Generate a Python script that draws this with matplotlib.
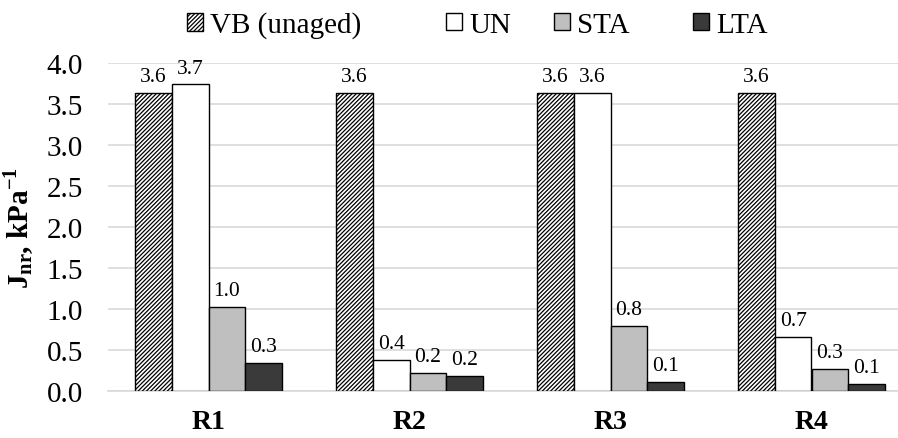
import numpy as np
import matplotlib.pyplot as plt

plt.rcParams['font.family'] = ['Liberation Serif']
plt.rcParams['mathtext.fontset'] = 'custom'
plt.rcParams['mathtext.rm'] = 'Liberation Serif'
plt.rcParams['mathtext.bf'] = 'Liberation Serif:bold'
plt.rcParams['hatch.linewidth'] = 0.9

# Non-recoverable creep compliance per binder / ageing state
groups = ['R1', 'R2', 'R3', 'R4']
series = ['VB (unaged)', 'UN', 'STA', 'LTA']
vb = [3.64, 3.64, 3.64, 3.64]
un = [3.74, 0.38, 3.64, 0.66]
sta = [1.03, 0.22, 0.79, 0.27]
lta = [0.34, 0.18, 0.11, 0.085]

fills = ['white', 'white', '#bfbfbf', '#3a3a3a']
hatches = ['////////', None, None, None]

fig = plt.figure(figsize=(8.98, 4.39), dpi=100)
ax = fig.add_axes([108/898, 47/439, 804/898, 328/439])

x = np.arange(len(groups))
w = 0.182
handles = []
for i, (vals, name) in enumerate(zip([vb, un, sta, lta], series)):
    pos = x + (i - 1.5) * w
    bars = ax.bar(pos, vals, w, color=fills[i], edgecolor='black',
                  linewidth=1.0, hatch=hatches[i], label=name, zorder=3)
    handles.append(bars)
    for b, v in zip(bars, vals):
        ax.annotate(f'{v:.1f}', (b.get_x() + b.get_width() / 2, v),
                    xytext=(0, 8.5), textcoords='offset points',
                    ha='center', va='baseline', fontsize=15.5)

ax.set_xlim(-0.5, 3.5)
ax.set_ylim(0, 4.0)
yt = np.arange(0, 4.01, 0.5)
ax.set_yticks(yt)
ax.set_yticklabels([f'{t:.1f}' for t in yt], fontsize=21)
ax.set_xticks(x)
ax.set_xticklabels(groups, fontsize=20, fontweight='bold')
ax.tick_params(axis='both', length=0)
ax.tick_params(axis='x', pad=13)
ax.tick_params(axis='y', pad=18)
ax.grid(axis='y', color='#d9d9d9', linewidth=1.2, zorder=0)
for s in ['top', 'right', 'left']:
    ax.spines[s].set_visible(False)
ax.spines['bottom'].set_color('#d9d9d9')
ax.spines['bottom'].set_linewidth(1.2)

ax.set_ylabel(r'$\mathbf{J_{nr}}$, kPa$^{\mathbf{-1}}$', fontsize=21,
              fontweight='bold')
ax.yaxis.set_label_coords((36 - 108) / 804, 0.5)

# one legend entry per series, laid out along the top
box_x = [187, 446, 554, 693]
for h, name, bx in zip(handles, series, box_x):
    fig.legend(handles=[h], labels=[name], loc='center left',
               bbox_to_anchor=(bx / 898, 1 - 26 / 439), frameon=False,
               fontsize=21, handlelength=0.55, handleheight=0.55,
               handletextpad=0.25, borderpad=0, borderaxespad=0)

fig.savefig('out.png', dpi=100)
